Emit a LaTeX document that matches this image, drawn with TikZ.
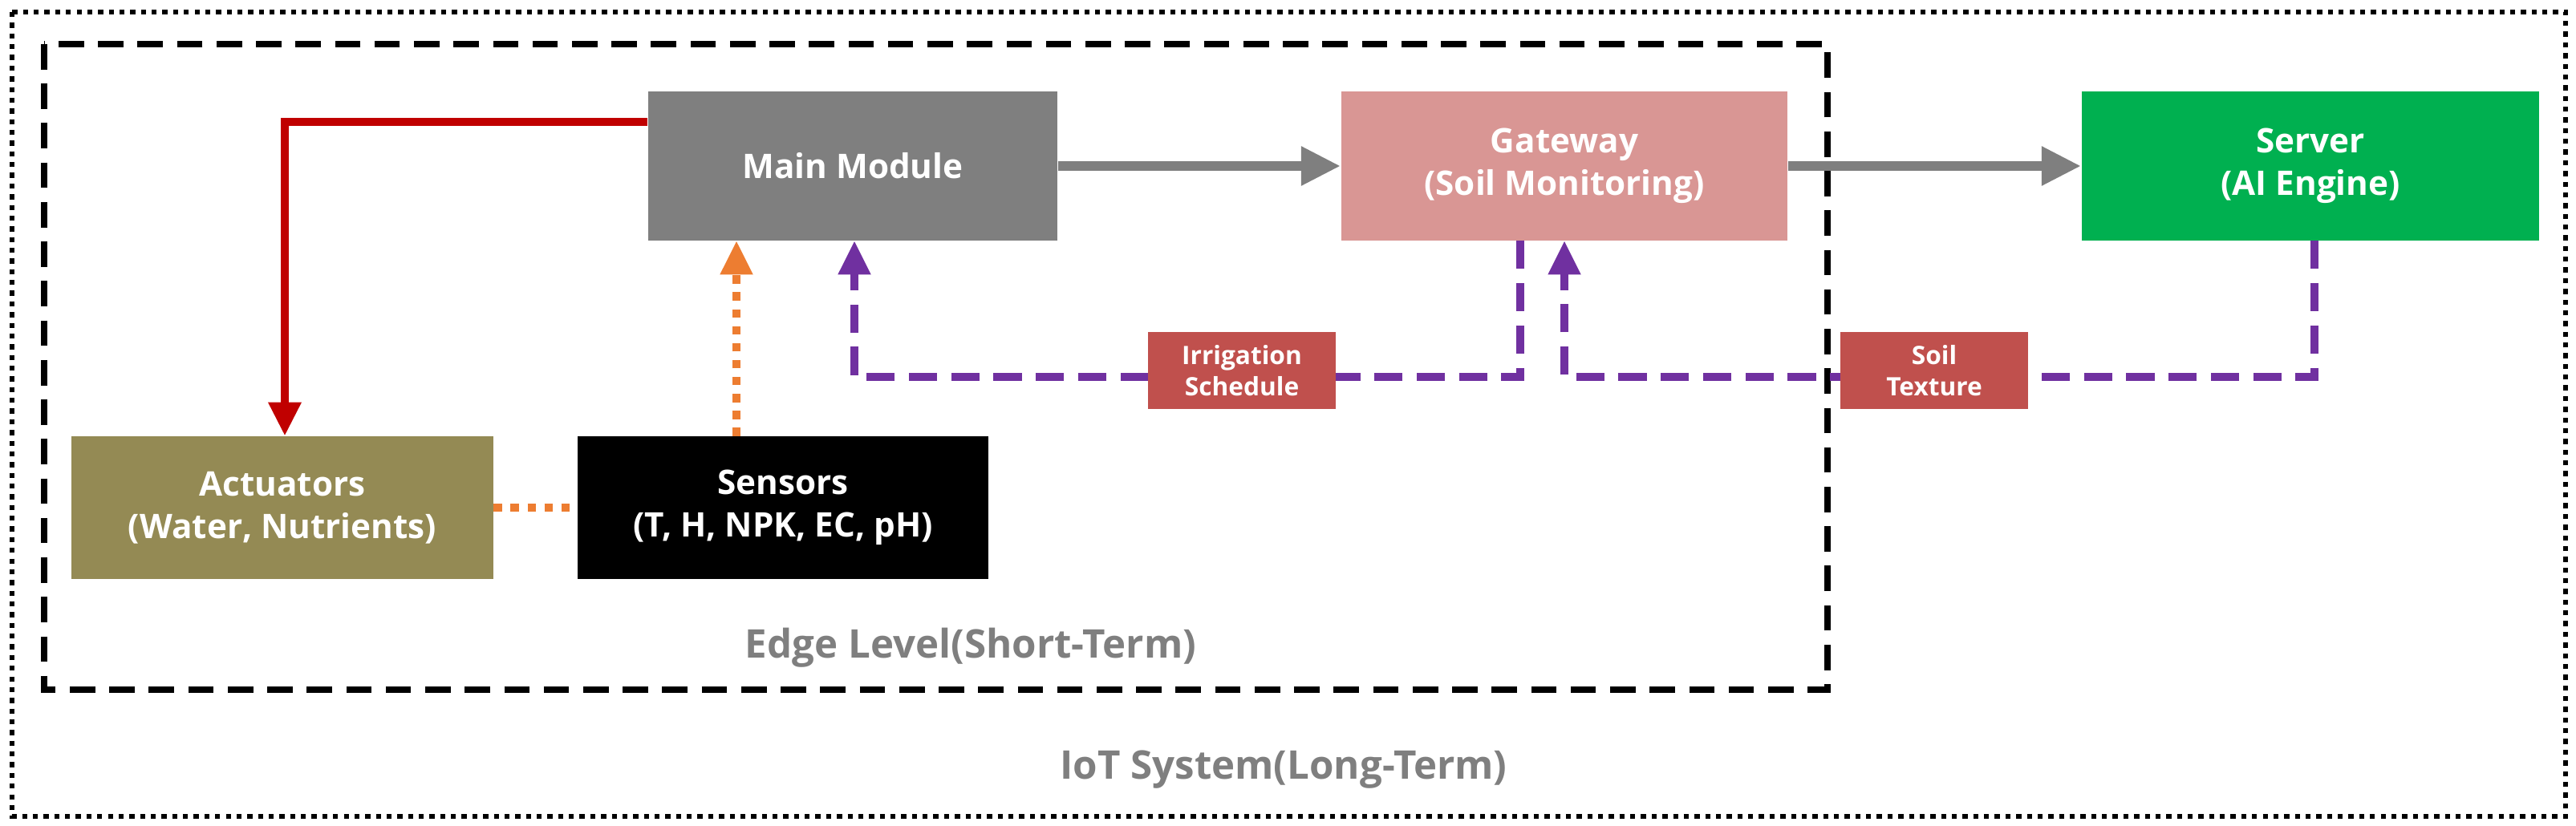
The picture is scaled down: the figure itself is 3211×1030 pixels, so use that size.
\documentclass[tikz,border=0pt]{standalone}
\usepackage{fontspec}
\setmainfont{Open Sans}
\usetikzlibrary{arrows.meta}
\definecolor{mgrey}{HTML}{7F7F7F}
\definecolor{gw}{HTML}{D99694}
\definecolor{srv}{HTML}{00B050}
\definecolor{act}{HTML}{948A54}
\definecolor{lbl}{HTML}{C0504D}
\definecolor{rd}{HTML}{C00000}
\definecolor{org}{HTML}{ED7D31}
\definecolor{prp}{HTML}{7030A0}
\tikzset{
 box/.style={draw=none,text=white,font=\fontsize{12}{15}\selectfont\bfseries,align=center,inner sep=0pt},
 lab/.style={fill=lbl,text=white,font=\fontsize{9}{11}\selectfont\bfseries,align=center,minimum width=2.33cm,minimum height=0.95cm,inner sep=0pt},
 pdash/.style={prp,line width=2.6pt,dash pattern=on 10pt off 5pt},
 odot/.style={org,line width=2.6pt,dash pattern=on 3pt off 3pt},
}
\begin{document}
\begin{tikzpicture}[x=0.01cm,y=-0.01cm]
\useasboundingbox (0,0) rectangle (3211,1030);
\draw[line width=1.8pt,dotted] (15,15) rectangle (3198,1018);
\draw[line width=2.2pt,dash pattern=on 9pt off 5pt] (55,55) rectangle (2278,860);
\node[box,fill=mgrey,minimum width=5.1cm,minimum height=1.85cm] (main) at (1063,207) {Main Module};
\node[box,fill=gw,minimum width=5.56cm,minimum height=1.85cm] (gw) at (1950,207) {Gateway\\(Soil Monitoring)};
\node[box,fill=srv,minimum width=5.7cm,minimum height=1.85cm] (srv) at (2880,207) {Server\\(AI Engine)};
\node[box,fill=act,minimum width=5.25cm,minimum height=1.77cm] (act) at (352,633) {Actuators\\(Water, Nutrients)};
\node[box,fill=black,minimum width=5.12cm,minimum height=1.77cm] (sen) at (976,633) {Sensors\\(T, H, NPK, EC, pH)};
\draw[rd,line width=3pt,-{Triangle[length=12pt,width=11pt]}] (main.west|-0,152) -- (355,152) -- (355,0|-act.north);
\draw[mgrey,line width=3.5pt,-{Triangle[length=14pt,width=13pt]}] (main.east) -- (gw.west);
\draw[mgrey,line width=3.5pt,-{Triangle[length=14pt,width=13pt]}] (gw.east) -- (srv.west);
\draw[odot,-{Triangle[length=12pt,width=11pt]}] (sen.north-|918,0) -- (918,0|-main.south);
\draw[odot] (act.east) -- (sen.west);
\node[lab] (irr) at (1548,462) {Irrigation\\Schedule};
\node[lab] (soil) at (2411,462) {Soil\\Texture};
\draw[pdash,-{Triangle[length=12pt,width=11pt]}] (1895,0|-gw.south) -- (1895,470) -- (1065,470) -- (1065,0|-main.south);
\draw[pdash,-{Triangle[length=12pt,width=11pt]}] (2885,0|-srv.south) -- (2885,470) -- (1950,470) -- (1950,0|-gw.south);
\node[lab] at (irr) {Irrigation\\Schedule};
\node[lab] at (soil) {Soil\\Texture};
\node[text=mgrey,font=\fontsize{14}{16}\selectfont\bfseries] (edge) at (1210,808) {Edge Level(Short-Term)};
\node[text=mgrey,font=\fontsize{14}{16}\selectfont\bfseries] (iot) at (1600,960) {IoT System(Long-Term)};
\end{tikzpicture}
\end{document}
